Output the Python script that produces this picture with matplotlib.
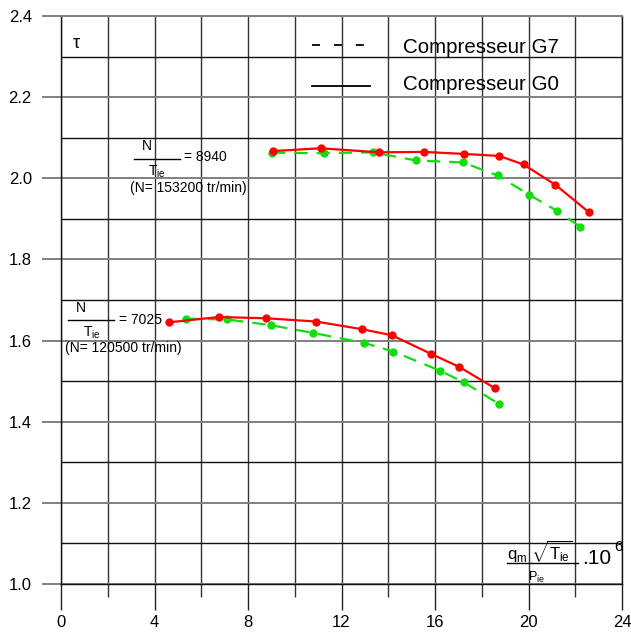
import numpy as np
import matplotlib
matplotlib.use("Agg")
import matplotlib.pyplot as plt
from matplotlib.lines import Line2D

plt.rcParams['font.family'] = ['Liberation Sans', 'DejaVu Sans']
plt.rcParams['mathtext.fontset'] = 'custom'
plt.rcParams['mathtext.rm'] = 'Liberation Sans'
plt.rcParams['mathtext.it'] = 'Liberation Sans:italic'

# reduced mass flow (x 10^6) and pressure ratio tau
x_g0_8940 = [9.05, 11.11, 13.60, 15.53, 17.26, 18.75, 19.79, 21.15, 22.59]
tau_g0_8940 = [2.067, 2.074, 2.064, 2.065, 2.060, 2.055, 2.034, 1.984, 1.916]
x_g7_8940 = [9.03, 11.25, 13.33, 15.18, 17.19, 18.68, 20.01, 21.24, 22.19]
tau_g7_8940 = [2.063, 2.062, 2.064, 2.044, 2.039, 2.007, 1.960, 1.919, 1.881]

x_g0_7025 = [4.62, 6.75, 8.77, 10.90, 12.88, 14.16, 15.84, 17.04, 18.58]
tau_g0_7025 = [1.645, 1.658, 1.655, 1.647, 1.628, 1.613, 1.567, 1.535, 1.482]
x_g7_7025 = [5.34, 7.11, 8.97, 10.77, 12.98, 14.22, 16.20, 17.24, 18.73]
tau_g7_7025 = [1.654, 1.652, 1.638, 1.619, 1.594, 1.573, 1.526, 1.497, 1.444]

x_ticks = [0, 4, 8, 12, 16, 20, 24]
y_ticks = [1.0, 1.2, 1.4, 1.6, 1.8, 2.0, 2.2, 2.4]

red = '#ff0000'
green = '#11dd11'

fig = plt.figure(figsize=(6.31, 6.32), dpi=100)
ax = fig.add_axes([61 / 631, 1 - 584 / 632, 561 / 631, 568 / 632])

ax.set_xlim(0, 24)
ax.set_ylim(1.0, 2.4)

# grid: labelled rows grey, intermediate rows black, columns every 2
ax.set_xticks(x_ticks)
ax.set_xticks(np.arange(2, 24, 4), minor=True)
ax.set_yticks(y_ticks)
ax.set_yticklabels(['%.1f' % v for v in y_ticks])
ax.set_yticks(np.arange(1.1, 2.4, 0.2), minor=True)
ax.set_axisbelow(True)
ax.grid(which='both', axis='x', color='#333333', lw=1.0)
ax.grid(which='major', axis='y', color='#808080', lw=1.4)
ax.grid(which='minor', axis='y', color='#111111', lw=1.0)

ax.tick_params(axis='x', which='major', direction='out', length=19, width=1.0,
               color='#222222', pad=3, labelsize=12)
ax.tick_params(axis='x', which='minor', direction='out', length=9, width=1.0,
               color='#333333')
ax.tick_params(axis='y', which='major', direction='out', length=14, width=1.4,
               color='#808080', pad=7, labelsize=12)
ax.tick_params(axis='y', which='minor', length=0)

for side in ['left', 'bottom', 'right']:
    ax.spines[side].set_color('#111111')
    ax.spines[side].set_linewidth(1.0)
ax.spines['top'].set_color('#808080')
ax.spines['top'].set_linewidth(1.4)

# curves
ax.plot(x_g0_8940, tau_g0_8940, '-', color=red, lw=1.6, marker='o', ms=5, zorder=4)
ax.plot(x_g7_8940, tau_g7_8940, '--', color=green, lw=1.6, dashes=(6, 4),
        marker='o', ms=5, zorder=3)
ax.plot(x_g0_7025, tau_g0_7025, '-', color=red, lw=1.6, marker='o', ms=5, zorder=4)
ax.plot(x_g7_7025, tau_g7_7025, '--', color=green, lw=1.6, dashes=(6, 4),
        marker='o', ms=5, zorder=3)

# legend drawn by hand
ax.add_line(Line2D([0.447, 0.540], [0.949, 0.949], transform=ax.transAxes,
                   color='black', lw=1.3, dashes=(4.4, 7.75)))
ax.add_line(Line2D([0.447, 0.551], [0.877, 0.877], transform=ax.transAxes,
                   color='black', lw=1.3))
ax.text(0.610, 0.945, 'Compresseur G7', transform=ax.transAxes, fontsize=14.8,
        va='center', ha='left')
ax.text(0.610, 0.880, 'Compresseur G0', transform=ax.transAxes, fontsize=14.8,
        va='center', ha='left')

ax.text(0.64, 2.333, 'τ', fontsize=13, ha='center', va='center')

# speed labels
ax.text(3.66, 2.080, 'N', fontsize=10, ha='center', va='center')
ax.plot([3.12, 5.09], [2.048, 2.048], color='black', lw=1.0)
ax.text(5.26, 2.052, '= 8940', fontsize=10, ha='left', va='center')
ax.text(4.11, 2.015, r'T$\mathregular{_{ie}}$', fontsize=10, ha='center', va='center')
ax.text(2.95, 1.976, '(N= 153200 tr/min)', fontsize=10, ha='left', va='center')

ax.text(0.84, 1.680, 'N', fontsize=10, ha='center', va='center')
ax.plot([0.30, 2.27], [1.651, 1.651], color='black', lw=1.0)
ax.text(2.48, 1.651, '= 7025', fontsize=10, ha='left', va='center')
ax.text(1.33, 1.619, r'T$\mathregular{_{ie}}$', fontsize=10, ha='center', va='center')
ax.text(0.17, 1.582, '(N= 120500 tr/min)', fontsize=10, ha='left', va='center')

# x-axis quantity
ax.text(19.08, 1.059, r'$\mathrm{q_m\ \sqrt{T_{ie}}}$', fontsize=12,
        ha='left', va='baseline')
ax.plot([19.08, 22.12], [1.052, 1.052], color='black', lw=1.0)
ax.text(19.97, 1.017, r'P$\mathregular{_{ie}}$', fontsize=9, ha='left', va='center')
ax.text(22.29, 1.064, '.10', fontsize=15, ha='left', va='center')
ax.text(23.83, 1.091, '6', fontsize=11, ha='center', va='center')

fig.savefig('out.png', dpi=100)
